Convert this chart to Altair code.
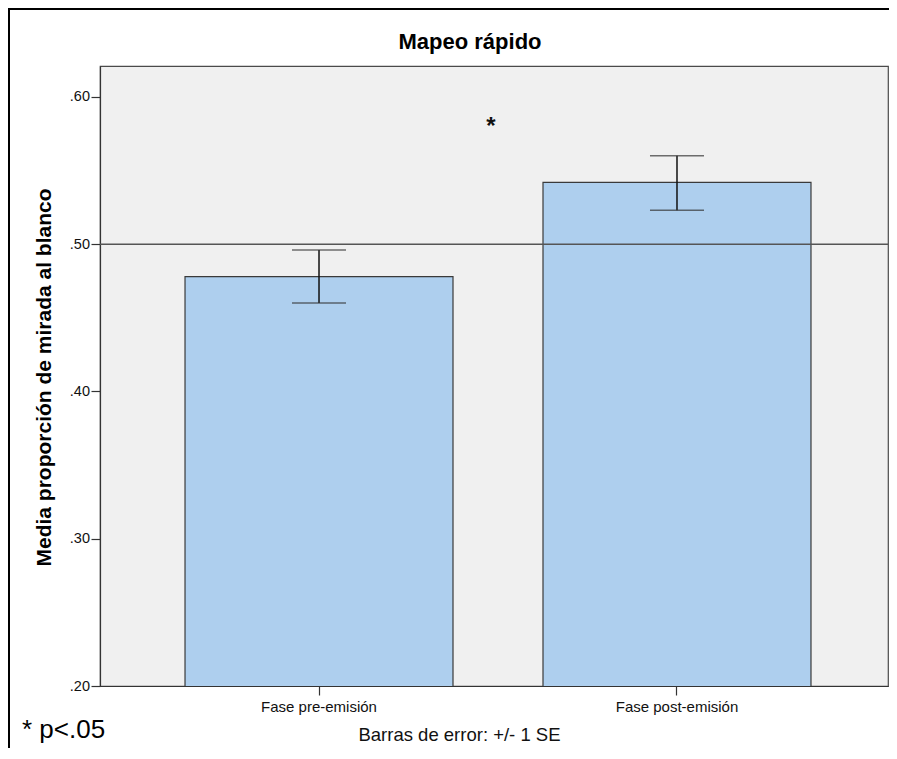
import altair as alt
import pandas as pd

categories = ["Fase pre-emisión", "Fase post-emisión"]
means = [0.478, 0.542]
lower = [0.460, 0.523]
upper = [0.496, 0.560]
reference_value = [0.50]
y_ticks = [0.2, 0.3, 0.4, 0.5, 0.6]

FONT = "Liberation Sans"

df = pd.DataFrame({"cat": categories, "mean": means, "lo": lower, "hi": upper})
ref_df = pd.DataFrame({"ref": reference_value})
one = pd.DataFrame({"a": [0]})

x_enc = alt.X(
    "cat:N",
    sort=categories,
    scale=alt.Scale(paddingInner=0.2514, paddingOuter=0.2263, align=0.5247),
    axis=alt.Axis(
        title="Barras de error: +/- 1 SE",
        titleX=359, titleY=54, titleBaseline="alphabetic", titleAlign="center",
        titleFontSize=18.5, titleFontWeight="normal", titleFont=FONT, titleColor="#111",
        labelAngle=0, labelFontSize=15, labelFont=FONT, labelColor="#111",
        labelPadding=4, tickSize=9, tickColor="#333", tickWidth=1.2,
        domainColor="#333", domainWidth=1.2, grid=False,
    ),
)
y_scale = alt.Scale(domain=[0.2, 0.621], nice=False, zero=False)

bars = alt.Chart(df).mark_bar(fill="#aecfee", stroke="#3a3a3a", strokeWidth=1.2, clip=True).encode(
    x=x_enc,
    y=alt.Y(
        "mean:Q",
        scale=y_scale,
        axis=alt.Axis(
            title="Media proporción de mirada al blanco",
            titleX=-50, titleY=311, titleAngle=-90, titleAlign="center", titleBaseline="alphabetic",
            titleFontSize=21, titleFontWeight="bold", titleFont=FONT, titleColor="#000",
            values=y_ticks, labelExpr="substring(format(datum.value, '.2f'), 1)",
            labelFontSize=14.5, labelFont=FONT, labelColor="#111", labelPadding=1.5,
            labelFlush=False, tickSize=9, tickColor="#333", tickWidth=1.2,
            domainColor="#333", domainWidth=1.2, grid=False,
        ),
    ),
)

ref_line = alt.Chart(ref_df).mark_rule(color="#555555", strokeWidth=1.5).encode(y="ref:Q")

err = alt.Chart(df).mark_rule(color="#111", strokeWidth=1.5).encode(
    x=alt.X("cat:N", sort=categories), y="lo:Q", y2="hi:Q"
)
cap_lo = alt.Chart(df).mark_tick(color="#333", size=54, thickness=1.5).encode(
    x=alt.X("cat:N", sort=categories), y="lo:Q"
)
cap_hi = alt.Chart(df).mark_tick(color="#333", size=54, thickness=1.5).encode(
    x=alt.X("cat:N", sort=categories), y="hi:Q"
)

title_txt = alt.Chart(one).mark_text(
    text="Mapeo rápido", font=FONT, fontSize=22, fontWeight="bold", color="#000",
    align="center", baseline="alphabetic",
).encode(x=alt.value(370), y=alt.value(-17))

star = alt.Chart(one).mark_text(
    text="*", font=FONT, fontSize=24, fontWeight="bold", color="#111",
    align="center", baseline="alphabetic",
).encode(x=alt.value(391), y=alt.value(68))

pnote = alt.Chart(one).mark_text(
    text="* p<.05", font=FONT, fontSize=26, color="#000",
    align="left", baseline="alphabetic",
).encode(x=alt.value(-78), y=alt.value(672))

frame = alt.Chart(one).mark_rect(fillOpacity=0, stroke="#000", strokeWidth=2).encode(
    x=alt.value(-91), x2=alt.value(1400), y=alt.value(-57), y2=alt.value(1200)
)

chart = alt.layer(
    bars, ref_line, err, cap_lo, cap_hi, title_txt, star, pnote, frame
).properties(
    width=788, height=620,
    autosize=alt.AutoSizeParams(type="none"),
    padding={"left": 92, "top": 58, "right": 1, "bottom": 62},
    background="#ffffff",
).configure_view(fill="#f0f0f0", stroke="#4a4a4a", strokeWidth=1.2)

chart.save("out.html", embed_options={"renderer": "svg", "actions": False})
